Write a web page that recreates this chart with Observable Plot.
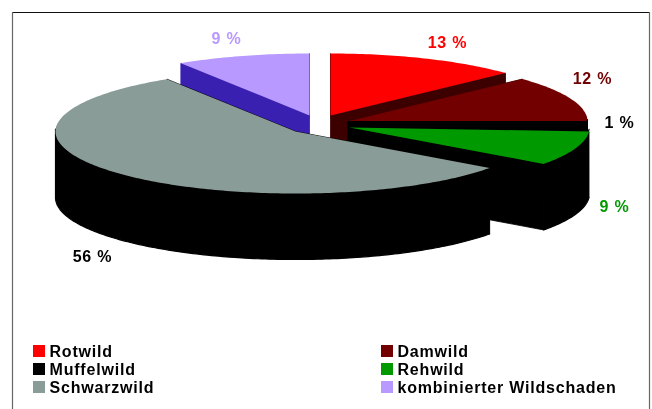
<!DOCTYPE html>
<html><head><meta charset="utf-8">
<script src="https://cdn.jsdelivr.net/npm/d3@7"></script>
<script src="https://cdn.jsdelivr.net/npm/@observablehq/plot@0.6"></script>
<style>html,body{margin:0;padding:0;background:#fff}svg{display:block;filter:blur(.6px)}svg text{letter-spacing:.8px}</style>
</head><body><div id="c"></div>
<script>
const categories = ["Rotwild","Damwild","Muffelwild","Rehwild","Schwarzwild","kombinierter Wildschaden"];
const shares = [13,12,1,9,56,9];
const labels = ["13 %","12 %","1 %","9 %","56 %","9 %"];
const topColors = ["#ff0000","#720000","#000000","#009900","#8a9c98","#b899ff"];
const wallColors = ["#3c0000","#3c0000","#000000","#000000","#000000","#3a20b0"];
const labelColors = ["#ff0000","#720000","#000000","#009900","#000000","#b899ff"];

// pie layout in pixel-like scale units
const centersX = [330,347,347,349,295,309];
const centersY = [115,121,121,127,131,115];
const rx = 240, ry = 62, depth = 66;
const labelX = [447,592,619,614,92,226];
const labelY = [42,78,122,206,256,38];
const legendX = [33,381,33,381,33,381];
const legendY = [351,351,369,369,387,387];

const cum = d3.cumsum(shares);
const total = cum[cum.length-1];
const slices = categories.map((c,i)=>{
  const a0 = (i? cum[i-1]:0)/total*2*Math.PI, a1 = cum[i]/total*2*Math.PI;
  const n = Math.max(3,Math.round((a1-a0)*60));
  const cx = centersX[i], cy = centersY[i];
  const arc = d3.range(n+1).map(k=>{const a=a0+(a1-a0)*k/n; return [cx+rx*Math.sin(a), cy-ry*Math.cos(a)];});
  return {i,cx,cy,arc};
});
// split a path wherever it turns back in x, so each hanging band is a simple polygon
const monotone = path => {
  const runs=[[path[0]]];
  path.slice(1).forEach((p,k)=>{
    const run=runs[runs.length-1], prev=path[k];
    if (run.length>1 && Math.sign(p[0]-prev[0])!==Math.sign(prev[0]-run[run.length-2][0])) runs.push([prev]);
    runs[runs.length-1].push(p);
  });
  return runs;
};
const hang = (run,inset)=>[...run.map(([x,y])=>[x,y+inset]),...run.slice().reverse().map(([x,y])=>[x,y+depth])];
const xy = {x:d=>d[0],y:d=>d[1],curve:"linear"};
// outer wall: back half starts below the top face, front half tucks under it and is
// stroked in its own colour so it closes the seam with the cut wall
const outerBand = (arc,fill)=>monotone(arc).map(run=>{
  const front = run[1][0]<run[0][0];
  return Plot.line(hang(run,front?-2:1),{...xy,fill,stroke:front?fill:"none",strokeWidth:1.2});
});
const cutBand = (a,b,fill)=>Plot.line(hang([a,b],0),{...xy,fill,stroke:fill,strokeWidth:0.8});
const face = (pts,fill)=>Plot.line(pts,{...xy,fill,stroke:"none"});

const order = [5,0,1,2,3,4];
const pieMarks = order.flatMap(i=>{
  const {cx,cy,arc} = slices[i], w = wallColors[i];
  const c=[cx,cy], last=arc[arc.length-1], first=arc[0];
  return [cutBand(c,first,w),cutBand(c,last,w),...outerBand(arc,w),face([c,...arc],topColors[i])];
});

const plot = Plot.plot({
  width:652,height:409,margin:0,
  x:{domain:[0,652],range:[0,652],axis:null},
  y:{domain:[0,409],range:[0,409],axis:null},
  marks:[
    Plot.ruleY([12],{x1:12,x2:649,stroke:"#111",strokeWidth:1}),
    Plot.ruleX([12],{y1:12,y2:409,stroke:"#666",strokeWidth:1.2}),
    Plot.ruleX([649],{y1:12,y2:409,stroke:"#666",strokeWidth:1.2}),
    ...pieMarks,
    Plot.text(labels.map((t,i)=>({t,x:labelX[i],y:labelY[i],c:labelColors[i]})),
      {x:"x",y:"y",text:"t",fill:"c",fontSize:16,fontWeight:"bold",fontFamily:"Liberation Sans",textAnchor:"middle"}),
    Plot.rect(categories.map((t,i)=>({x1:legendX[i],x2:legendX[i]+12,y1:legendY[i]-6,y2:legendY[i]+6,c:topColors[i]})),
      {x1:"x1",x2:"x2",y1:"y1",y2:"y2",fill:"c"}),
    Plot.text(categories.map((t,i)=>({t,x:legendX[i]+16,y:legendY[i]})),
      {x:"x",y:"y",text:"t",fill:"#000",fontSize:16,fontWeight:"bold",fontFamily:"Liberation Sans",textAnchor:"start"})
  ]
});
document.getElementById("c").append(plot);
</script></body></html>
